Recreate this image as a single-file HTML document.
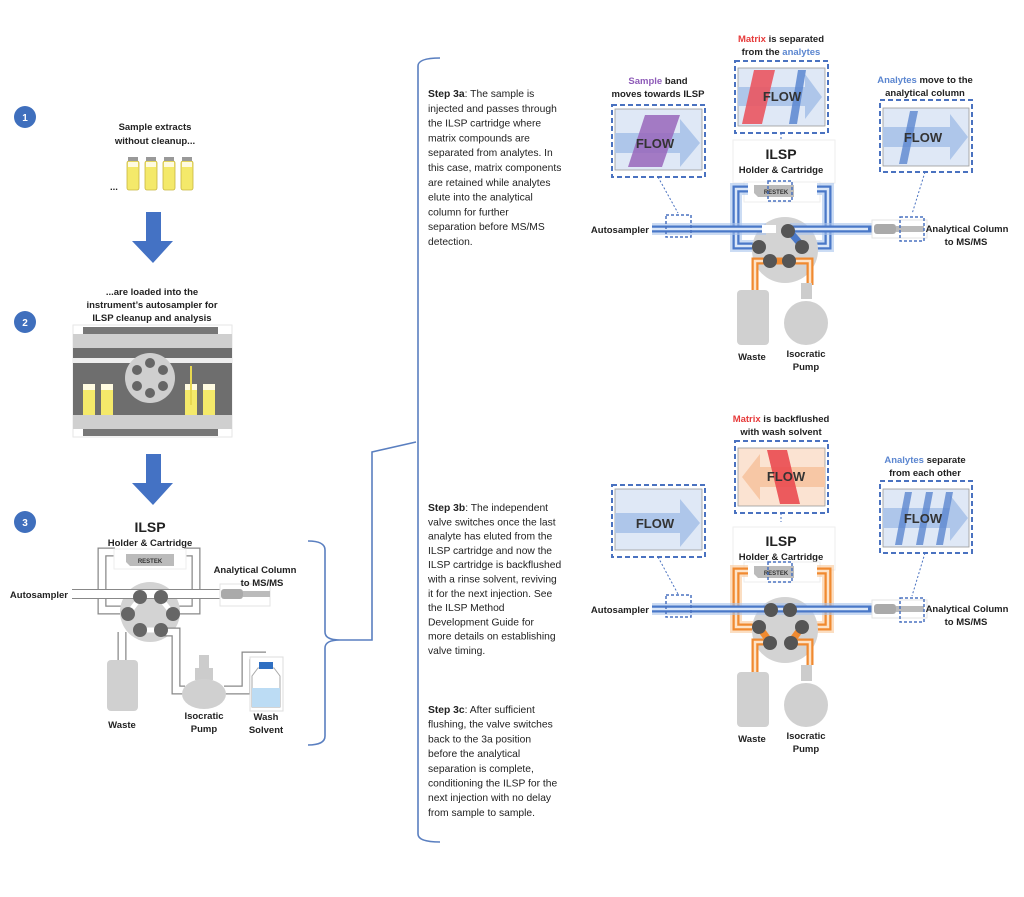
<!DOCTYPE html>
<html><head><meta charset="utf-8"><style>
html,body{margin:0;padding:0;background:#fff;}
svg{display:block;font-family:"Liberation Sans",sans-serif;}
.b{font-weight:bold;}
.t{font-size:10.3px;fill:#222;}
.lb{font-size:9.5px;font-weight:bold;fill:#222;}
</style></head><body>
<svg width="1024" height="897" viewBox="0 0 1024 897" xmlns="http://www.w3.org/2000/svg">
<g fill="#3f6fbd"><circle cx="25" cy="117" r="11"/><circle cx="25" cy="322" r="11"/><circle cx="25" cy="522" r="11"/></g>
<g fill="#fff" font-size="10" font-weight="bold" text-anchor="middle"><text x="25" y="121">1</text><text x="25" y="326">2</text><text x="25" y="526">3</text></g>

<g class="lb" text-anchor="middle"><text x="155" y="130">Sample extracts</text><text x="155" y="144">without cleanup...</text></g>
<text x="110" y="190" class="lb" font-size="12">...</text>
<g>
 <g fill="#f4e96a" stroke="#c9b640" stroke-width="0.8">
  <rect x="127" y="161" width="12" height="29" rx="2"/><rect x="145" y="161" width="12" height="29" rx="2"/><rect x="163" y="161" width="12" height="29" rx="2"/><rect x="181" y="161" width="12" height="29" rx="2"/></g>
 <g fill="#fffbe0"><rect x="128" y="162" width="10" height="5"/><rect x="146" y="162" width="10" height="5"/><rect x="164" y="162" width="10" height="5"/><rect x="182" y="162" width="10" height="5"/></g>
 <g fill="#999"><rect x="128" y="157" width="10" height="4"/><rect x="146" y="157" width="10" height="4"/><rect x="164" y="157" width="10" height="4"/><rect x="182" y="157" width="10" height="4"/></g>
</g>
<polygon points="146,212 161,212 161,241 173,241 153,263 132,241 146,241" fill="#4472c4"/>
<polygon points="146,454 161,454 161,483 173,483 153,505 132,483 146,483" fill="#4472c4"/>

<g class="lb" text-anchor="middle"><text x="152" y="295">...are loaded into the</text><text x="152" y="308">instrument’s autosampler for</text><text x="152" y="321">ILSP cleanup and analysis</text></g>
<rect x="73" y="325" width="159" height="112" fill="#fff" stroke="#e6e6e6"/>
<rect x="83" y="327" width="135" height="7" fill="#777"/>
<rect x="73" y="334" width="159" height="14" fill="#cfcfcf"/>
<rect x="73" y="348" width="159" height="10" fill="#6e6e6e"/>
<rect x="73" y="358" width="159" height="5" fill="#eee"/>
<rect x="73" y="363" width="159" height="52" fill="#6e6e6e"/>
<rect x="73" y="415" width="159" height="14" fill="#cfcfcf"/>
<rect x="83" y="429" width="135" height="7" fill="#777"/>
<circle cx="150" cy="378" r="25" fill="#cfcfcf"/>
<g fill="#666"><circle cx="150" cy="363" r="5"/><circle cx="163" cy="370" r="5"/><circle cx="163" cy="386" r="5"/><circle cx="150" cy="393" r="5"/><circle cx="137" cy="386" r="5"/><circle cx="137" cy="370" r="5"/></g>
<g fill="#f4e96a"><rect x="83" y="384" width="12" height="31"/><rect x="101" y="384" width="12" height="31"/><rect x="185" y="384" width="12" height="31"/><rect x="203" y="384" width="12" height="31"/></g>
<g fill="#fffbe0"><rect x="83" y="384" width="12" height="6"/><rect x="101" y="384" width="12" height="6"/><rect x="185" y="384" width="12" height="6"/><rect x="203" y="384" width="12" height="6"/></g>
<line x1="191" y1="366" x2="191" y2="405" stroke="#e8d850" stroke-width="2"/>

<!-- step 3 left diagram -->
<text x="150" y="532" text-anchor="middle" font-size="14" font-weight="bold" fill="#222">ILSP</text>
<text x="150" y="546" text-anchor="middle" class="lb">Holder &amp; Cartridge</text>
<g fill="none">
<path d="M115,552 H102 V610 H130" stroke="#888" stroke-width="9"/>
<path d="M115,552 H102 V610 H130" stroke="#fff" stroke-width="6.5"/>
<path d="M184,552 H196 V610 H168" stroke="#888" stroke-width="9"/>
<path d="M184,552 H196 V610 H168" stroke="#fff" stroke-width="6.5"/>
</g>
<rect x="114" y="549" width="72" height="20" fill="#fff" stroke="#eee"/>
<path d="M126,554 H174 V566 H130 L126,562 Z" fill="#bbb"/>
<text x="150" y="563" text-anchor="middle" font-size="6" font-weight="bold" fill="#333">RESTEK</text>
<circle cx="150" cy="612" r="30" fill="#d3d3d3"/>
<path d="M72,594 H220" stroke="#888" stroke-width="10"/>
<path d="M72,594 H220" stroke="#fff" stroke-width="8"/>
<path d="M140,598 L128,614 M160,598 L173,614 M140,630 H160" stroke="#fff" stroke-width="5"/>
<g fill="none">
<path d="M122,632 V662" stroke="#888" stroke-width="9"/><path d="M122,632 V662" stroke="#fff" stroke-width="6.5"/>
<path d="M160,632 H176 V690 H185" stroke="#888" stroke-width="9"/><path d="M160,632 H176 V690 H185" stroke="#fff" stroke-width="6.5"/>
<path d="M224,690 H246 V656 H266" stroke="#888" stroke-width="9"/><path d="M224,690 H246 V656 H266" stroke="#fff" stroke-width="6.5"/>
</g>
<g fill="#666"><circle cx="140" cy="597" r="7"/><circle cx="161" cy="597" r="7"/><circle cx="128" cy="614" r="7"/><circle cx="173" cy="614" r="7"/><circle cx="140" cy="630" r="7"/><circle cx="161" cy="630" r="7"/></g>
<rect x="220" y="584" width="50" height="22" fill="#fff" stroke="#e3e3e3"/>
<rect x="221" y="589" width="22" height="10" rx="3" fill="#aaa"/>
<rect x="243" y="591" width="27" height="6" fill="#bbb"/>
<g class="lb" text-anchor="middle"><text x="255" y="573">Analytical Column</text><text x="262" y="586">to MS/MS</text></g>
<text x="68" y="598" text-anchor="end" class="lb">Autosampler</text>
<rect x="107" y="660" width="31" height="51" rx="4" fill="#d0d0d0"/>
<rect x="199" y="655" width="10" height="14" fill="#ccc"/><rect x="195" y="668" width="18" height="12" fill="#ccc"/>
<ellipse cx="204" cy="694" rx="22" ry="15" fill="#d0d0d0"/>
<rect x="250" y="657" width="33" height="54" fill="#fff" stroke="#ddd"/>
<path d="M252,676 L258,668 H274 L280,676 V707 H252 Z" fill="#fff" stroke="#aaa"/>
<rect x="252" y="688" width="28" height="19" fill="#bcdcf4"/>
<rect x="259" y="662" width="14" height="7" fill="#2f6fc2"/>
<g class="lb" text-anchor="middle"><text x="122" y="728">Waste</text><text x="204" y="719">Isocratic</text><text x="204" y="732">Pump</text><text x="266" y="720">Wash</text><text x="266" y="733">Solvent</text></g>

<g fill="none" stroke="#5a7fc0" stroke-width="1.6">
<path d="M308,541 Q325,541 325,550 V632 Q325,640 340,640 Q325,640 325,648 V736 Q325,745 308,745"/>
<path d="M340,640 H372 V452 L416,442"/>
<path d="M440,58 Q418,58 418,66 V834 Q418,842 440,842"/>
</g>

<g class="t">
<text x="428" y="97"><tspan font-weight="bold">Step 3a</tspan>: The sample is</text>
<text x="428" y="111.8">injected and passes through</text>
<text x="428" y="126.6">the ILSP cartridge where</text>
<text x="428" y="141.4">matrix compounds are</text>
<text x="428" y="156.2">separated from analytes.  In</text>
<text x="428" y="171">this case, matrix components</text>
<text x="428" y="185.8">are retained while analytes</text>
<text x="428" y="200.6">elute into the analytical</text>
<text x="428" y="215.4">column for further</text>
<text x="428" y="230.2">separation before MS/MS</text>
<text x="428" y="245">detection.</text>

<text x="428" y="511"><tspan font-weight="bold">Step 3b</tspan>: The independent</text>
<text x="428" y="525.3">valve switches once the last</text>
<text x="428" y="539.6">analyte has eluted from the</text>
<text x="428" y="553.9">ILSP cartridge and now the</text>
<text x="428" y="568.2">ILSP cartridge is backflushed</text>
<text x="428" y="582.5">with a rinse solvent, reviving</text>
<text x="428" y="596.8">it for the next injection.  See</text>
<text x="428" y="611.1">the ILSP Method</text>
<text x="428" y="625.4">Development Guide for</text>
<text x="428" y="639.7">more details on establishing</text>
<text x="428" y="654">valve timing.</text>

<text x="428" y="713"><tspan font-weight="bold">Step 3c</tspan>: After sufficient</text>
<text x="428" y="727.7">flushing, the valve switches</text>
<text x="428" y="742.4">back to the 3a position</text>
<text x="428" y="757.1">before the analytical</text>
<text x="428" y="771.8">separation is complete,</text>
<text x="428" y="786.5">conditioning the ILSP for the</text>
<text x="428" y="801.2">next injection with no delay</text>
<text x="428" y="815.9">from sample to sample.</text>
</g>

<!-- TOP RIGHT -->
<g>
<g class="lb" text-anchor="middle">
 <text x="781" y="42"><tspan fill="#e63a3a">Matrix</tspan> is separated</text>
 <text x="781" y="55">from the <tspan fill="#5b86d0">analytes</tspan></text>
 <text x="658" y="84"><tspan fill="#8e5bb8">Sample</tspan> band</text>
 <text x="658" y="97">moves towards ILSP</text>
 <text x="925" y="83"><tspan fill="#5b86d0">Analytes</tspan> move to the</text>
 <text x="925" y="96">analytical column</text>
</g>
<rect x="612" y="105" width="93" height="72" fill="none" stroke="#4a72c0" stroke-width="2" stroke-dasharray="5,3"/>
<rect x="615" y="109" width="87" height="61" fill="#dfe8f6" stroke="#999" stroke-width="0.8"/>
<polygon points="615,133 680,133 680,119 700,143 680,167 680,153 615,153" fill="#aec6ea"/>
<polygon points="645,115 680,115 662,167 628,167" fill="#9966bb" opacity="0.85"/>
<text x="655" y="148" text-anchor="middle" font-size="13" font-weight="bold" fill="#333">FLOW</text>
<rect x="735" y="61" width="93" height="72" fill="none" stroke="#4a72c0" stroke-width="2" stroke-dasharray="5,3"/>
<rect x="738" y="68" width="87" height="58" fill="#dfe8f6" stroke="#999" stroke-width="0.8"/>
<polygon points="738,87 805,87 805,74 822,97 805,119 805,106 738,106" fill="#aec6ea"/>
<polygon points="754,70 775,70 762,124 742,124" fill="#ea5560" opacity="0.9"/>
<polygon points="798,70 806,70 797,124 789,124" fill="#5b86d0" opacity="0.85"/>
<text x="782" y="101" text-anchor="middle" font-size="13" font-weight="bold" fill="#333">FLOW</text>
<line x1="781" y1="133" x2="781" y2="142" stroke="#4a72c0" stroke-dasharray="2,2"/>
<rect x="880" y="100" width="92" height="72" fill="none" stroke="#4a72c0" stroke-width="2" stroke-dasharray="5,3"/>
<rect x="883" y="108" width="86" height="58" fill="#dfe8f6" stroke="#999" stroke-width="0.8"/>
<polygon points="883,127 950,127 950,114 968,137 950,160 950,147 883,147" fill="#aec6ea"/>
<polygon points="910,111 918,111 907,164 899,164" fill="#5b86d0" opacity="0.8"/>
<text x="923" y="142" text-anchor="middle" font-size="13" font-weight="bold" fill="#333">FLOW</text>
<path d="M658,177 L678,213" stroke="#4a72c0" stroke-dasharray="2,2" fill="none"/>
<path d="M925,172 L912,214" stroke="#4a72c0" stroke-dasharray="2,2" fill="none"/>
<rect x="733" y="140" width="102" height="43" fill="#fff" stroke="#eee"/>
<text x="781" y="159" text-anchor="middle" font-size="14" font-weight="bold" fill="#222">ILSP</text>
<text x="781" y="173" text-anchor="middle" class="lb">Holder &amp; Cartridge</text>
<rect x="744" y="182" width="76" height="20" fill="#fff" stroke="#eee"/>
<g fill="none">
<path d="M748,189 H736 V246 H757" stroke="#a9c4ec" stroke-width="12" opacity="0.6"/>
<path d="M748,189 H736 V246 H757" stroke="#4a78c8" stroke-width="7"/>
<path d="M748,189 H736 V246 H757" stroke="#dbe7f8" stroke-width="2.5"/>
<path d="M817,189 H828 V246 H805" stroke="#a9c4ec" stroke-width="12" opacity="0.6"/>
<path d="M817,189 H828 V246 H805" stroke="#4a78c8" stroke-width="7"/>
<path d="M817,189 H828 V246 H805" stroke="#dbe7f8" stroke-width="2.5"/>
</g>
<path d="M754,185 H794 V197 H758 L754,193 Z" fill="#bbb"/>
<text x="776" y="194" text-anchor="middle" font-size="6" font-weight="bold" fill="#333">RESTEK</text>
<rect x="768" y="181" width="24" height="20" fill="none" stroke="#4a72c0" stroke-width="1.5" stroke-dasharray="3,2"/>
<circle cx="785" cy="250" r="33" fill="#d3d3d3"/>
<path d="M652,229 H766 M790,229 H872" stroke="#a9c4ec" stroke-width="12" opacity="0.6"/>
<path d="M652,229 H766 M790,229 H872" stroke="#4a78c8" stroke-width="7"/>
<path d="M652,229 H766 M790,229 H868" stroke="#dbe7f8" stroke-width="2.5"/>
<path d="M790,232 L803,247" stroke="#4a78c8" stroke-width="7"/>
<rect x="762" y="225" width="14" height="8" fill="#fff"/>
<g fill="none">
<path d="M770,261 H755 V292 M789,261 H810 V285" stroke="#f08a30" stroke-width="7"/>
<path d="M770,261 H755 V292 M789,261 H810 V285" stroke="#fde3c8" stroke-width="2.5"/>
</g>
<path d="M770,261 H789" stroke="#f08a30" stroke-width="7"/>
<g fill="#555"><circle cx="788" cy="231" r="7"/><circle cx="759" cy="247" r="7"/><circle cx="802" cy="247" r="7"/><circle cx="770" cy="261" r="7"/><circle cx="789" cy="261" r="7"/></g>
<rect x="872" y="220" width="55" height="18" fill="#fff" stroke="#e3e3e3"/>
<rect x="874" y="224" width="22" height="10" rx="3" fill="#aaa"/>
<rect x="896" y="226" width="28" height="6" fill="#bbb"/>
<rect x="900" y="217" width="24" height="24" fill="none" stroke="#4a72c0" stroke-width="1.5" stroke-dasharray="3,2"/>
<rect x="666" y="215" width="25" height="22" fill="none" stroke="#4a72c0" stroke-width="1.5" stroke-dasharray="3,2"/>
<text x="649" y="233" text-anchor="end" class="lb">Autosampler</text>
<g class="lb" text-anchor="middle"><text x="967" y="232">Analytical Column</text><text x="966" y="245">to MS/MS</text></g>
<rect x="737" y="290" width="32" height="55" rx="4" fill="#d0d0d0"/>
<rect x="801" y="283" width="11" height="16" fill="#ccc"/>
<circle cx="806" cy="323" r="22" fill="#d0d0d0"/>
<g class="lb" text-anchor="middle"><text x="752" y="360">Waste</text><text x="806" y="357">Isocratic</text><text x="806" y="370">Pump</text></g>
</g>

<!-- BOTTOM RIGHT -->
<g>
<g class="lb" text-anchor="middle">
 <text x="781" y="422"><tspan fill="#e63a3a">Matrix</tspan> is backflushed</text>
 <text x="781" y="435">with wash solvent</text>
 <text x="925" y="463"><tspan fill="#5b86d0">Analytes</tspan> separate</text>
 <text x="925" y="476">from each other</text>
</g>
<rect x="612" y="485" width="93" height="72" fill="none" stroke="#4a72c0" stroke-width="2" stroke-dasharray="5,3"/>
<rect x="615" y="489" width="87" height="61" fill="#dfe8f6" stroke="#999" stroke-width="0.8"/>
<polygon points="615,513 680,513 680,499 700,523 680,547 680,533 615,533" fill="#aec6ea"/>
<text x="655" y="528" text-anchor="middle" font-size="13" font-weight="bold" fill="#333">FLOW</text>
<rect x="735" y="441" width="93" height="72" fill="none" stroke="#4a72c0" stroke-width="2" stroke-dasharray="5,3"/>
<rect x="738" y="448" width="87" height="58" fill="#fbe3d2" stroke="#999" stroke-width="0.8"/>
<polygon points="825,467 760,467 760,454 742,477 760,500 760,487 825,487" fill="#f7c7a5"/>
<polygon points="767,450 787,450 800,504 780,504" fill="#ea4a50" opacity="0.9"/>
<text x="786" y="481" text-anchor="middle" font-size="13" font-weight="bold" fill="#333">FLOW</text>
<line x1="781" y1="513" x2="781" y2="522" stroke="#4a72c0" stroke-dasharray="2,2"/>
<rect x="880" y="481" width="92" height="72" fill="none" stroke="#4a72c0" stroke-width="2" stroke-dasharray="5,3"/>
<rect x="883" y="489" width="86" height="58" fill="#dfe8f6" stroke="#999" stroke-width="0.8"/>
<polygon points="883,508 950,508 950,495 968,518 950,541 950,528 883,528" fill="#aec6ea"/>
<polygon points="905,492 912,492 902,545 895,545" fill="#5b86d0" opacity="0.8"/>
<polygon points="926,492 933,492 923,545 916,545" fill="#5b86d0" opacity="0.8"/>
<polygon points="946,492 953,492 943,545 936,545" fill="#5b86d0" opacity="0.8"/>
<text x="923" y="523" text-anchor="middle" font-size="13" font-weight="bold" fill="#333">FLOW</text>
<path d="M658,557 L678,594" stroke="#4a72c0" stroke-dasharray="2,2" fill="none"/>
<path d="M925,553 L912,596" stroke="#4a72c0" stroke-dasharray="2,2" fill="none"/>
<rect x="733" y="527" width="102" height="43" fill="#fff" stroke="#eee"/>
<text x="781" y="546" text-anchor="middle" font-size="14" font-weight="bold" fill="#222">ILSP</text>
<text x="781" y="560" text-anchor="middle" class="lb">Holder &amp; Cartridge</text>
<rect x="744" y="562" width="76" height="20" fill="#fff" stroke="#eee"/>
<g fill="none">
<path d="M748,571 H736 V627 H757" stroke="#f8c89a" stroke-width="12" opacity="0.6"/>
<path d="M748,571 H736 V627 H757" stroke="#f08a30" stroke-width="7"/>
<path d="M748,571 H736 V627 H757" stroke="#fde3c8" stroke-width="2.5"/>
<path d="M817,571 H828 V627 H805" stroke="#f8c89a" stroke-width="12" opacity="0.6"/>
<path d="M817,571 H828 V627 H805" stroke="#f08a30" stroke-width="7"/>
<path d="M817,571 H828 V627 H805" stroke="#fde3c8" stroke-width="2.5"/>
</g>
<path d="M754,566 H794 V578 H758 L754,574 Z" fill="#bbb"/>
<text x="776" y="575" text-anchor="middle" font-size="6" font-weight="bold" fill="#333">RESTEK</text>
<rect x="768" y="562" width="24" height="20" fill="none" stroke="#4a72c0" stroke-width="1.5" stroke-dasharray="3,2"/>
<circle cx="785" cy="630" r="33" fill="#d3d3d3"/>
<path d="M652,609 H872" stroke="#a9c4ec" stroke-width="12" opacity="0.6"/>
<path d="M652,609 H872" stroke="#4a78c8" stroke-width="7"/>
<path d="M652,609 H868" stroke="#dbe7f8" stroke-width="2.5"/>
<g fill="none">
<path d="M759,627 L770,642 M802,627 L791,642 M770,642 H755 V672 M791,642 H810 V665" stroke="#f08a30" stroke-width="7"/>
<path d="M770,642 H755 V672 M791,642 H810 V665" stroke="#fde3c8" stroke-width="2.5"/>
</g>
<g fill="#555"><circle cx="771" cy="610" r="7"/><circle cx="790" cy="610" r="7"/><circle cx="759" cy="627" r="7"/><circle cx="802" cy="627" r="7"/><circle cx="770" cy="643" r="7"/><circle cx="791" cy="643" r="7"/></g>
<rect x="872" y="600" width="55" height="18" fill="#fff" stroke="#e3e3e3"/>
<rect x="874" y="604" width="22" height="10" rx="3" fill="#aaa"/>
<rect x="896" y="606" width="28" height="6" fill="#bbb"/>
<rect x="900" y="598" width="24" height="24" fill="none" stroke="#4a72c0" stroke-width="1.5" stroke-dasharray="3,2"/>
<rect x="666" y="595" width="25" height="22" fill="none" stroke="#4a72c0" stroke-width="1.5" stroke-dasharray="3,2"/>
<text x="649" y="613" text-anchor="end" class="lb">Autosampler</text>
<g class="lb" text-anchor="middle"><text x="967" y="612">Analytical Column</text><text x="966" y="625">to MS/MS</text></g>
<rect x="737" y="672" width="32" height="55" rx="4" fill="#d0d0d0"/>
<rect x="801" y="665" width="11" height="16" fill="#ccc"/>
<circle cx="806" cy="705" r="22" fill="#d0d0d0"/>
<g class="lb" text-anchor="middle"><text x="752" y="742">Waste</text><text x="806" y="739">Isocratic</text><text x="806" y="752">Pump</text></g>
</g>
</svg>
</body></html>
